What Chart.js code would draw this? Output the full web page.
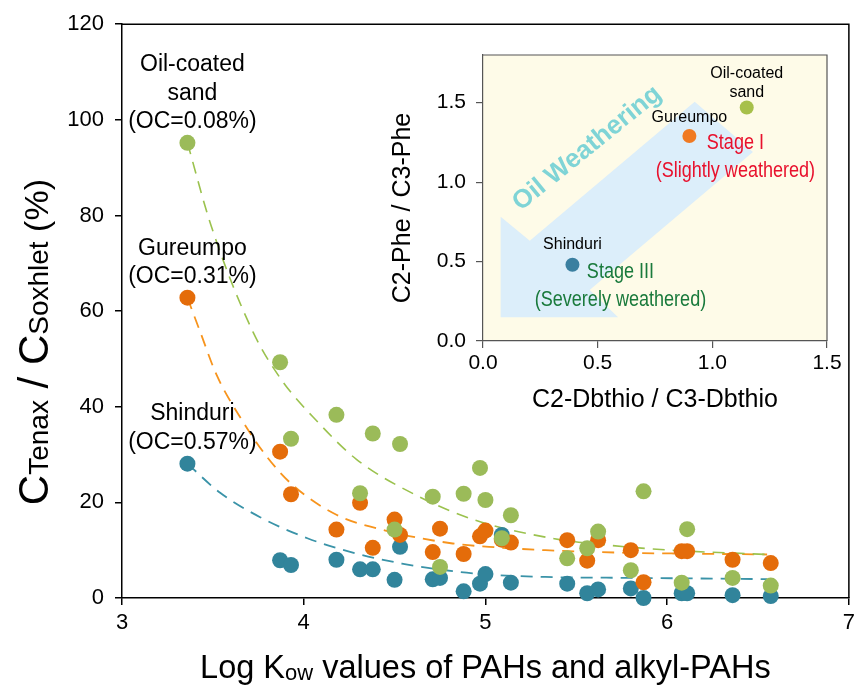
<!DOCTYPE html>
<html>
<head>
<meta charset="utf-8">
<script src="https://cdn.jsdelivr.net/npm/chart.js@4.4.1/dist/chart.umd.min.js"></script>
<style>
  html, body { margin: 0; padding: 0; background: #fff; }
  #wrap { position: relative; width: 860px; height: 687px; }
  #mainChart { position: absolute; left: 0; top: 0; }
  #insetChart { position: absolute; left: 380px; top: 30px; }
</style>
</head>
<body>
<div id="wrap">
  <canvas id="mainChart" width="860" height="687"></canvas>
  <canvas id="insetChart" width="470" height="400"></canvas>
</div>
<script>
// ── 데이터
const logKow   = [3.36, 3.87, 3.93, 4.18, 4.31, 4.38, 4.50, 4.53, 4.71, 4.75, 4.88, 4.97, 5.00, 5.09, 5.14, 5.45, 5.56, 5.62, 5.80, 5.87, 6.08, 6.11, 6.36, 6.57];
const oilSand  = [95.2, 49.3, 33.3, 38.3, 21.9, 34.4, 14.3, 32.2, 21.2, 6.5, 21.8, 27.2, 20.5, 12.5, 17.3, 8.3, 10.4, 13.9, 5.8, 22.3, 3.2, 14.4, 4.2, 2.6];
const gureumpo = [62.8, 30.6, 21.7, 14.3, 19.9, 10.5, 16.4, 13.2, 9.6, 14.5, 9.2, 12.9, 14.1, 12.2, 11.6, 12.1, 7.8, 12.1, 10.0, 3.3, 9.8, 9.8, 8.0, 7.3];
const shinduri = [28.1, 7.9, 6.9, 8.0, 6.0, 6.0, 3.8, 10.7, 3.9, 4.2, 1.4, 3.0, 5.0, 13.2, 3.2, 3.0, 1.0, 1.8, 2.0, 0.0, 1.0, 1.0, 0.6, 0.4];

// 회귀 곡선 (점선) 위의 점들
const fitSandX = [3.36, 3.49, 3.72, 3.88, 4.08, 4.29, 4.64, 4.95, 5.38, 5.69, 6.02, 6.55];
const fitSandY = [95.2, 77.9, 55.7, 45.5, 36.7, 29.0, 21.1, 16.2, 12.4, 11.0, 10.0, 9.1];
const fitGurX  = [3.36, 3.43, 3.52, 3.66, 3.80, 3.94, 4.18, 4.45, 4.82, 5.02, 5.33, 5.84, 6.06, 6.55];
const fitGurY  = [62.8, 55.7, 46.7, 37.2, 29.4, 23.6, 17.4, 14.1, 11.4, 10.7, 10.0, 9.4, 9.3, 9.1];
const fitShinX = [3.36, 3.54, 3.76, 4.02, 4.27, 4.54, 4.82, 5.02, 5.33, 5.84, 6.55];
const fitShinY = [28.1, 22.0, 16.9, 12.5, 9.5, 7.2, 5.6, 4.9, 4.4, 4.2, 3.95];

const xTicks = [3, 4, 5, 6, 7];
const yTicks = [0, 20, 40, 60, 80, 100, 120];

const siteNames  = ['Oil-coated sand', 'Gureumpo', 'Shinduri'];
const siteLabels = [['Oil-coated', 'sand', '(OC=0.08%)'], ['Gureumpo', '(OC=0.31%)'], ['Shinduri', '(OC=0.57%)']];

// 삽입 그래프
const dbthioRatio = [1.15, 0.90, 0.39];
const pheRatio    = [1.47, 1.29, 0.48];
const insetXTicks = [0, 0.5, 1.0, 1.5];
const insetYTicks = [0, 0.5, 1.0, 1.5];

const FONT = "'Liberation Sans', Arial, sans-serif";
const C_GREEN = '#9bbb59', C_ORANGE = '#e46c0a', C_BLUE = '#31849b';
const L_GREEN = '#9bc24e', L_ORANGE = '#f7941d', L_BLUE = '#3a93a8';

const pts = ys => logKow.map((x, i) => ({ x, y: ys[i] }));
const zip = (xs, ys) => xs.map((x, i) => ({ x, y: ys[i] }));

// ── 글자 크기가 섞인 텍스트 (아래첨자)
function drawMixed(ctx, parts, cx, baseY) {
  let w = 0;
  parts.forEach(p => { ctx.font = `${p.size}px ${FONT}`; w += ctx.measureText(p.t).width; });
  let x = cx - w / 2;
  ctx.textAlign = 'left';
  ctx.textBaseline = 'alphabetic';
  parts.forEach(p => {
    ctx.font = `${p.size}px ${FONT}`;
    ctx.fillText(p.t, x, baseY + (p.dy || 0));
    x += ctx.measureText(p.t).width;
  });
}

const mainDecor = {
  id: 'mainDecor',
  afterDraw(chart) {
    const { ctx, chartArea: a, scales: { x, y } } = chart;
    ctx.save();
    ctx.strokeStyle = '#000';
    ctx.lineWidth = 1.5;
    ctx.beginPath();
    ctx.moveTo(a.left, a.top);
    ctx.lineTo(a.right, a.top);
    ctx.lineTo(a.right, a.bottom);
    ctx.stroke();

    // 지점 라벨
    ctx.fillStyle = '#000';
    ctx.font = `23px ${FONT}`;
    ctx.textAlign = 'center';
    ctx.textBaseline = 'middle';
    const firsts = [oilSand[0], gureumpo[0], shinduri[0]];
    siteLabels.forEach((lines, s) => {
      const px = x.getPixelForValue(logKow[0]) + 5;
      const py = y.getPixelForValue(firsts[s]);
      lines.forEach((t, i) => {
        ctx.fillText(t, px, py - 21 - 28.5 * (lines.length - 1 - i));
      });
    });

    // 축 제목
    drawMixed(ctx, [{ t: 'Log K', size: 32.5 }, { t: 'ow', size: 22, dy: 2 }, { t: ' values of PAHs and alkyl-PAHs', size: 32.5 }],
      (a.left + a.right) / 2, 678);
    ctx.translate(48, (a.top + a.bottom) / 2 + 31);
    ctx.rotate(-Math.PI / 2);
    drawMixed(ctx, [{ t: 'C', size: 42 }, { t: 'Tenax', size: 28 }, { t: ' / C', size: 42 }, { t: 'Soxhlet', size: 28 }, { t: ' (%)', size: 34 }], 0, 0);
    ctx.restore();
  }
};

const axisCommon = (min, max, ticks) => ({
  type: 'linear', min, max,
  afterBuildTicks: s => { s.ticks = ticks.map(v => ({ value: v })); },
  border: { color: '#000', width: 1.5 },
  grid: { drawOnChartArea: false, drawTicks: true, tickLength: 7, color: '#000', lineWidth: 1.5 },
  ticks: { color: '#000', font: { size: 22, family: FONT } },
});

new Chart(document.getElementById('mainChart'), {
  type: 'scatter',
  data: {
    datasets: [
      { label: siteNames[0], data: pts(oilSand), backgroundColor: C_GREEN, borderWidth: 0, pointRadius: 8, clip: false },
      { label: siteNames[1], data: pts(gureumpo), backgroundColor: C_ORANGE, borderWidth: 0, pointRadius: 8, clip: false },
      { label: siteNames[2], data: pts(shinduri), backgroundColor: C_BLUE, borderWidth: 0, pointRadius: 8, clip: false },
      { type: 'line', data: zip(fitSandX, fitSandY), borderColor: L_GREEN, borderWidth: 1.6, borderDash: [12, 8], pointRadius: 0, cubicInterpolationMode: 'monotone', fill: false },
      { type: 'line', data: zip(fitGurX, fitGurY), borderColor: L_ORANGE, borderWidth: 1.8, borderDash: [12, 8], pointRadius: 0, cubicInterpolationMode: 'monotone', fill: false },
      { type: 'line', data: zip(fitShinX, fitShinY), borderColor: L_BLUE, borderWidth: 1.8, borderDash: [12, 8], pointRadius: 0, cubicInterpolationMode: 'monotone', fill: false },
    ]
  },
  options: {
    responsive: false,
    devicePixelRatio: 1,
    animation: false,
    layout: { padding: { left: 0, right: 8, top: 22, bottom: 0 } },
    plugins: { legend: { display: false }, tooltip: { enabled: false } },
    scales: {
      x: Object.assign(axisCommon(3, 7, xTicks), { afterFit: s => { s.height = 89; } }),
      y: Object.assign(axisCommon(0, 120, yTicks), { afterFit: s => { s.width = 122; } }),
    }
  },
  plugins: [mainDecor]
});
Chart.getChart('mainChart').options.scales.x.ticks.padding = 5;
Chart.getChart('mainChart').options.scales.y.ticks.padding = 11;
Chart.getChart('mainChart').update();

// ── 삽입 그래프 장식
const insetDecor = {
  id: 'insetDecor',
  beforeDraw(chart) {
    const { ctx, chartArea: a } = chart;
    ctx.save();
    ctx.fillStyle = '#fefbe8';
    ctx.fillRect(a.left, a.top, a.right - a.left, a.bottom - a.top);
    ctx.restore();
  },
  beforeDatasetsDraw(chart) {
    const { ctx, scales: { x, y } } = chart;
    // 풍화 방향 화살표 (데이터 좌표)
    const arrow = [[0.077, 0.782], [0.204, 0.631], [0.923, 1.505], [1.177, 1.19], [0.465, 0.321], [0.589, 0.149], [0.077, 0.149]];
    ctx.save();
    ctx.fillStyle = '#dceefa';
    ctx.beginPath();
    arrow.forEach(([vx, vy], i) => {
      const px = x.getPixelForValue(vx), py = y.getPixelForValue(vy);
      i ? ctx.lineTo(px, py) : ctx.moveTo(px, py);
    });
    ctx.closePath();
    ctx.fill();
    ctx.translate(x.getPixelForValue(0.454), y.getPixelForValue(1.212));
    ctx.rotate(-39 * Math.PI / 180);
    ctx.fillStyle = '#7fd4d6';
    ctx.font = `bold 26px ${FONT}`;
    ctx.textAlign = 'center';
    ctx.textBaseline = 'middle';
    ctx.fillText('Oil Weathering', 0, 0);
    ctx.restore();
  },
  afterDraw(chart) {
    const { ctx, chartArea: a, scales: { x, y } } = chart;
    ctx.save();
    ctx.strokeStyle = '#555';
    ctx.lineWidth = 1.2;
    ctx.beginPath();
    ctx.moveTo(a.left, a.top);
    ctx.lineTo(a.right, a.top);
    ctx.lineTo(a.right, a.bottom);
    ctx.stroke();

    const P = i => [x.getPixelForValue(dbthioRatio[i]), y.getPixelForValue(pheRatio[i])];
    ctx.textAlign = 'center';
    ctx.textBaseline = 'middle';
    ctx.fillStyle = '#000';
    ctx.font = `16px ${FONT}`;
    let [gx, gy] = P(0);
    ctx.fillText('Oil-coated', gx, gy - 34);
    ctx.fillText('sand', gx, gy - 15);
    let [ox, oy] = P(1);
    ctx.fillText('Gureumpo', ox, oy - 18);
    let [bx, by] = P(2);
    ctx.fillText('Shinduri', bx, by - 20);

    // 좁은 글꼴 느낌
    const narrow = (t, cx, cy, color) => {
      ctx.save();
      ctx.translate(cx, cy);
      ctx.scale(0.82, 1);
      ctx.fillStyle = color;
      ctx.font = `22px ${FONT}`;
      ctx.fillText(t, 0, 0);
      ctx.restore();
    };
    narrow('Stage I', ox + 46, oy + 7, '#e8112d');
    narrow('(Slightly weathered)', ox + 46, oy + 35, '#e8112d');
    narrow('Stage III', bx + 48, by + 7, '#1a7a3c');
    narrow('(Severely weathered)', bx + 48, by + 35, '#1a7a3c');

    // 축 제목
    ctx.fillStyle = '#000';
    ctx.font = `25px ${FONT}`;
    ctx.fillText('C2-Dbthio / C3-Dbthio', (a.left + a.right) / 2, 370);
    ctx.translate(23, (a.top + a.bottom) / 2 + 10);
    ctx.rotate(-Math.PI / 2);
    ctx.fillText('C2-Phe / C3-Phe', 0, 0);
    ctx.restore();
  }
};

const insetAxis = (min, max, ticks, pad) => ({
  type: 'linear', min, max,
  afterBuildTicks: s => { s.ticks = ticks.map(v => ({ value: v })); },
  border: { color: '#555', width: 1.2 },
  grid: { drawOnChartArea: false, drawTicks: true, tickLength: 7, color: '#555', lineWidth: 1.2 },
  ticks: { color: '#000', padding: pad, font: { size: 21, family: FONT }, callback: v => Number(v).toFixed(1) },
});

new Chart(document.getElementById('insetChart'), {
  type: 'scatter',
  data: {
    datasets: [{
      data: dbthioRatio.map((x, i) => ({ x, y: pheRatio[i] })),
      backgroundColor: ['#a7c04a', '#f07a22', '#3a7fa0'],
      borderWidth: 0,
      pointRadius: 7,
      clip: false,
    }]
  },
  options: {
    responsive: false,
    devicePixelRatio: 1,
    animation: false,
    layout: { padding: { left: 0, right: 23, top: 25, bottom: 0 } },
    plugins: { legend: { display: false }, tooltip: { enabled: false } },
    scales: {
      x: Object.assign(insetAxis(0, 1.5, insetXTicks, 3), { afterFit: s => { s.height = 89; } }),
      y: Object.assign(insetAxis(0, 1.8, insetYTicks, 10), { afterFit: s => { s.width = 103; } }),
    }
  },
  plugins: [insetDecor]
});
</script>
</body>
</html>
